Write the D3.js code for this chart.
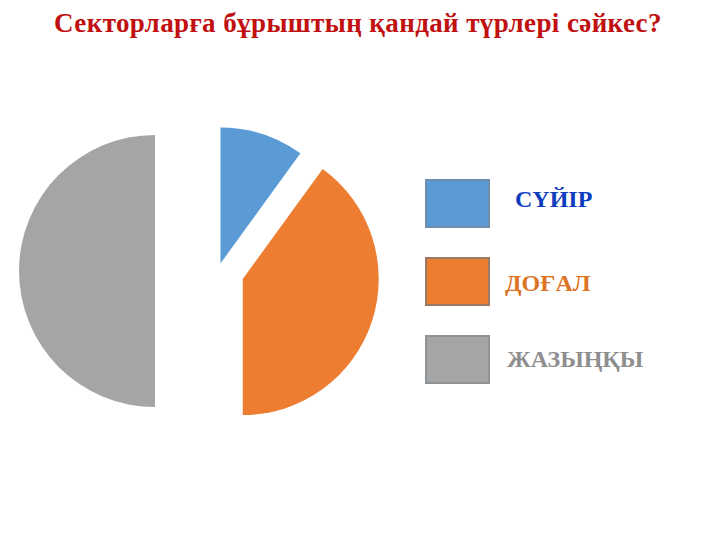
<!DOCTYPE html>
<html>
<head>
<meta charset="utf-8">
<script src="https://cdn.jsdelivr.net/npm/d3@7"></script>
<style>
  html, body { margin: 0; padding: 0; background: #ffffff; }
  svg { display: block; }
</style>
</head>
<body>
<svg id="chart" width="720" height="540"></svg>
<script>
// Angle types and the share of the circle each one takes
const categories = ["СҮЙІР", "ДОҒАЛ", "ЖАЗЫҢҚЫ"];
const values = [10, 40, 50];
const sliceColors = ["#5B9BD5", "#ED7D31", "#A5A5A5"];
const legendBorder = ["#6F8EAD", "#9A7A66", "#8E9398"];
const labelColors = ["#0D3DBF", "#DB7424", "#8E8E8E"];
// How far each slice is pulled out of the pie
const explode = [8, 26, 63];
const title = "Секторларға бұрыштың қандай түрлері сәйкес?";

const svg = d3.select("#chart");

svg.append("text")
  .attr("x", 358)
  .attr("y", 32)
  .attr("text-anchor", "middle")
  .attr("font-family", "Liberation Serif, Times New Roman, serif")
  .attr("font-weight", "bold")
  .attr("font-size", 27)
  .attr("letter-spacing", 0.4)
  .attr("fill", "#C0100F")
  .text(title);

const cx = 218, cy = 271, radius = 136;

const pie = d3.pie().sort(null).value(d => d).startAngle(0).endAngle(2 * Math.PI);
const arc = d3.arc().innerRadius(0).outerRadius(radius);
const arcs = pie(values);

const g = svg.append("g").attr("transform", `translate(${cx},${cy})`);
g.selectAll("path")
  .data(arcs)
  .join("path")
  .attr("d", arc)
  .attr("fill", (d, i) => sliceColors[i])
  .attr("transform", (d, i) => {
    const mid = (d.startAngle + d.endAngle) / 2;
    const dx = Math.sin(mid) * explode[i];
    const dy = -Math.cos(mid) * explode[i];
    return `translate(${dx},${dy})`;
  });

// Legend
const legendY = d3.scalePoint().domain(categories).range([180, 336]);
const legend = svg.append("g");
legend.selectAll("rect")
  .data(categories)
  .join("rect")
  .attr("x", 426)
  .attr("y", d => legendY(d))
  .attr("width", 63)
  .attr("height", 47)
  .attr("fill", (d, i) => sliceColors[i])
  .attr("stroke", (d, i) => legendBorder[i])
  .attr("stroke-width", 2);

const labelX = [515, 505, 507];
const labelDy = [27, 33, 31];
legend.selectAll("text")
  .data(categories)
  .join("text")
  .attr("x", (d, i) => labelX[i])
  .attr("y", (d, i) => legendY(d) + labelDy[i])
  .attr("font-family", "Liberation Serif, Times New Roman, serif")
  .attr("font-weight", "bold")
  .attr("font-size", 24)
  .attr("fill", (d, i) => labelColors[i])
  .text(d => d);
</script>
</body>
</html>
